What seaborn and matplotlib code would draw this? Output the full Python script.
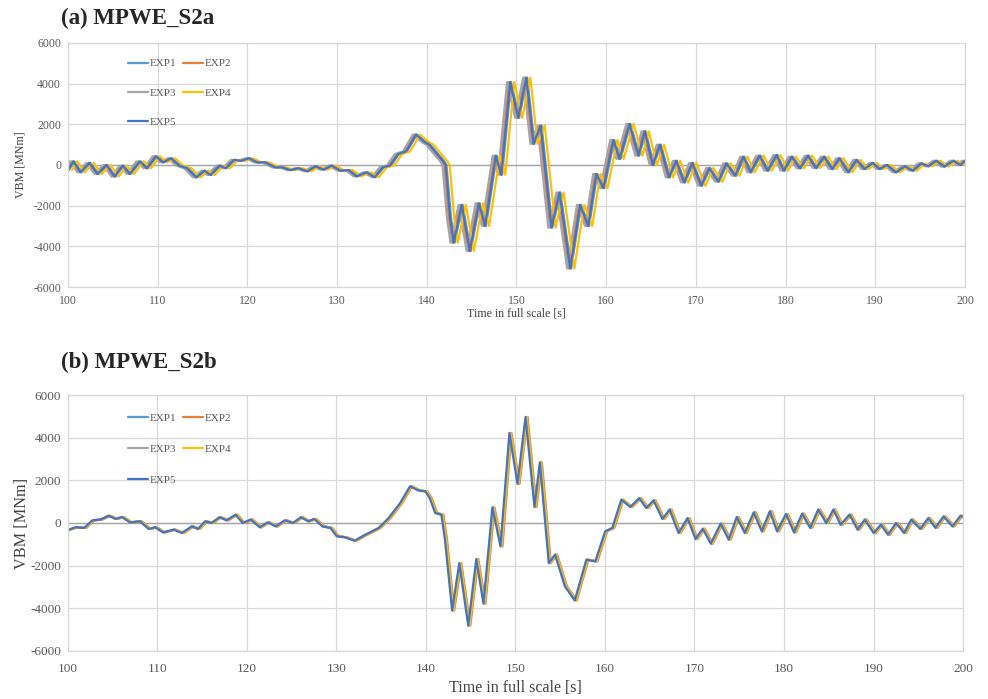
import numpy as np
import pandas as pd
import matplotlib
matplotlib.use("Agg")
import matplotlib.pyplot as plt
from matplotlib.lines import Line2D
import seaborn as sns

# ---------------------------------------------------------------------------
# Data: vertical bending moment (VBM) time histories, full-scale time [s]
# Reference trace (EXP5) per panel; other runs are the same record offset in time.
# ---------------------------------------------------------------------------
experiments = ["EXP1", "EXP2", "EXP3", "EXP4", "EXP5"]
colors = ["#5B9BD5", "#ED7D31", "#A5A5A5", "#FFC000", "#4472C4"]

# (a) MPWE_S2a
time_a = [100.0, 100.6, 101.4, 102.4, 103.3, 104.3, 105.2, 106.1, 106.9, 108.0,
          108.8, 109.8, 110.6, 111.5, 112.4, 113.3, 114.3, 115.2, 115.9, 116.9,
          117.6, 118.5, 119.3, 120.2, 121.1, 122.0, 123.1, 123.9, 124.8, 125.7,
          126.7, 127.6, 128.5, 129.4, 130.4, 131.3, 132.2, 133.3, 134.2, 135.1,
          135.9, 136.8, 137.7, 138.8, 139.8, 140.3, 141.3, 141.8, 142.1, 142.6,
          143.0, 143.9, 144.8, 145.8, 146.5, 147.7, 148.3, 149.3, 150.2, 151.1,
          151.9, 152.7, 153.9, 154.8, 156.0, 157.1, 158.0, 158.9, 159.7, 160.8,
          161.5, 162.6, 163.6, 164.3, 165.2, 166.0, 167.0, 167.8, 168.7, 169.6,
          170.6, 171.5, 172.5, 173.4, 174.4, 175.3, 176.1, 177.1, 178.0, 179.0,
          179.8, 180.7, 181.6, 182.5, 183.4, 184.3, 185.2, 186.0, 187.0, 187.9,
          188.8, 189.7, 190.5, 191.3, 192.3, 193.3, 194.2, 195.1, 195.9, 196.8,
          197.7, 198.7, 199.5, 200.0]
vbm_a = [-250, 180, -360, 100, -440, 0, -570, -30, -440, 180,
         -160, 430, 130, 330, -30, -160, -610, -280, -490, -30,
         -160, 250, 210, 330, 130, 130, -115, -115, -250, -160,
         -310, -65, -230, -30, -280, -250, -560, -360, -600, -115,
         -30, 540, 670, 1500, 1120, 1000, 460, 210, 0, -2580,
         -3820, -1960, -4230, -1880, -3000, 460, -480, 4080, 2320, 4300,
         1040, 1940, -3080, -1350, -5090, -1960, -3000, -440, -1140, 1230,
         300, 2020, 460, 1660, 0, 1000, -610, 210, -860, 100,
         -1020, -150, -820, 80, -530, 410, -360, 460, -280, 490,
         -280, 410, -165, 460, -150, 410, -200, 330, -360, 250,
         -200, 100, -200, 0, -360, -65, -280, 80, -65, 210,
         -80, 210, 0, 210]
lag_a = [0.10, -0.15, -0.35, 0.45, 0.0]   # time offset of each run [s]

# (b) MPWE_S2b
time_b = [100.0, 100.9, 101.9, 102.8, 103.7, 104.6, 105.4, 106.1, 107.0, 108.1,
          109.1, 109.8, 110.7, 111.9, 112.8, 113.9, 114.6, 115.4, 116.1, 117.0,
          117.8, 118.8, 119.6, 120.5, 121.5, 122.4, 123.3, 124.3, 125.2, 126.1,
          126.9, 127.6, 128.5, 129.4, 130.1, 131.0, 132.1, 133.3, 134.8, 135.9,
          137.2, 138.3, 139.2, 140.0, 140.5, 141.1, 141.8, 142.2, 143.0, 143.8,
          144.8, 145.7, 146.5, 147.5, 148.4, 149.4, 150.3, 151.2, 152.2, 152.8,
          153.8, 154.5, 155.6, 156.7, 158.0, 159.0, 160.1, 160.9, 161.9, 162.9,
          163.9, 164.7, 165.5, 166.5, 167.3, 168.3, 169.3, 170.2, 171.0, 171.9,
          173.0, 173.9, 174.8, 175.7, 176.7, 177.6, 178.5, 179.3, 180.3, 181.2,
          182.1, 183.0, 183.9, 184.8, 185.6, 186.4, 187.4, 188.3, 189.1, 190.1,
          190.9, 191.7, 192.6, 193.5, 194.3, 195.3, 196.2, 197.0, 197.9, 198.9,
          199.8, 200.0]
vbm_b = [-340, -200, -230, 125, 160, 340, 190, 280, 30, 80,
         -280, -200, -440, -310, -470, -160, -280, 80, 0, 270,
         125, 390, 0, 160, -200, 30, -160, 125, 0, 270,
         80, 190, -160, -230, -620, -670, -830, -550, -230, 230,
         940, 1720, 1530, 1480, 1170, 470, 390, -780, -4100, -1880,
         -4810, -1690, -3780, 730, -1090, 4220, 1840, 4970, 750, 2840,
         -1880, -1480, -2970, -3630, -1720, -1800, -390, -230, 1090, 750,
         1160, 700, 1060, 190, 630, -470, 230, -750, -270, -970,
         -30, -780, 280, -470, 500, -390, 550, -390, 420, -440,
         440, -230, 630, 0, 630, -80, 390, -310, 160, -470,
         -80, -550, 0, -470, 160, -280, 230, -230, 310, -160,
         340, 300]
lag_b = [0.0, 0.15, 0.10, 0.05, -0.08]

x_ticks = list(range(100, 201, 10))
y_ticks = list(range(-6000, 6001, 2000))


def build_frame(times, values, lags):
    rows = []
    for name, lag in zip(experiments, lags):
        for t, v in zip(times, values):
            rows.append((name, t + lag, v))
    return pd.DataFrame(rows, columns=["exp", "time", "vbm"])


sns.set_theme(style="whitegrid")
plt.rcParams["font.family"] = ["Liberation Serif", "DejaVu Serif"]
plt.rcParams["axes.unicode_minus"] = False

fig = plt.figure(figsize=(9.88, 6.99), dpi=100)
ax_a = fig.add_axes([0.0688, 0.5894, 0.9079, 0.3491])
ax_b = fig.add_axes([0.0688, 0.0687, 0.9059, 0.3662])

panels = [
    # axes, data, title, title y, tick size, tick pad, ylabel size, ylabel pad,
    # xlabel size, xlabel pad, legend top, legend row spacing
    (ax_a, build_frame(time_a, vbm_a, lag_a), "(a) MPWE_S2a", 0.974,
     8.5, 5.5, 8.6, 5, 8.6, 0.5, 0.924, 1.75),
    (ax_b, build_frame(time_b, vbm_b, lag_b), "(b) MPWE_S2b", 0.481,
     9.5, 9.0, 11.7, 0, 11.5, 3.5, 0.4165, 1.9),
]

for (ax, df, title, ty, tick_fs, tick_pad, ylab_fs, ylab_pad,
     xlab_fs, xlab_pad, leg_y, leg_sp) in panels:
    sns.lineplot(data=df, x="time", y="vbm", hue="exp", hue_order=experiments,
                 palette=colors, estimator=None, sort=False, linewidth=1.6,
                 legend=False, ax=ax)
    ax.axhline(0, color="#A6A6A6", lw=1.0, zorder=1.5)
    ax.set_xlim(100, 200)
    ax.set_ylim(-6000, 6000)
    ax.set_xticks(x_ticks)
    ax.set_yticks(y_ticks)
    ax.grid(True, color="#D9D9D9", lw=0.9)
    for s in ax.spines.values():
        s.set_color("#D9D9D9")
        s.set_linewidth(0.9)
    ax.tick_params(axis="both", length=0, labelsize=tick_fs, colors="#595959")
    ax.tick_params(axis="x", pad=tick_pad)
    ax.tick_params(axis="y", pad=5)
    ax.set_xlabel("Time in full scale [s]", fontsize=xlab_fs, color="#404040",
                  labelpad=xlab_pad)
    ax.set_ylabel("VBM [MNm]", fontsize=ylab_fs, color="#404040", labelpad=ylab_pad)

    # legend laid out row-wise: EXP1 EXP2 / EXP3 EXP4 / EXP5
    order = [0, 2, 4, 1, 3]
    handles = [Line2D([], [], color=colors[i], lw=1.6) for i in order]
    labels = [experiments[i] for i in order]
    ax.legend(handles, labels, ncol=2, loc="upper left",
              bbox_to_anchor=(0.124, leg_y), bbox_transform=fig.transFigure,
              frameon=False, fontsize=8, handlelength=1.8, handletextpad=0.15,
              columnspacing=0.6, labelspacing=leg_sp, borderpad=0,
              labelcolor="#595959")

    fig.text(0.062, ty, title, fontsize=16.5, fontweight="bold", va="center", ha="left")

fig.savefig("out.png", dpi=100)
